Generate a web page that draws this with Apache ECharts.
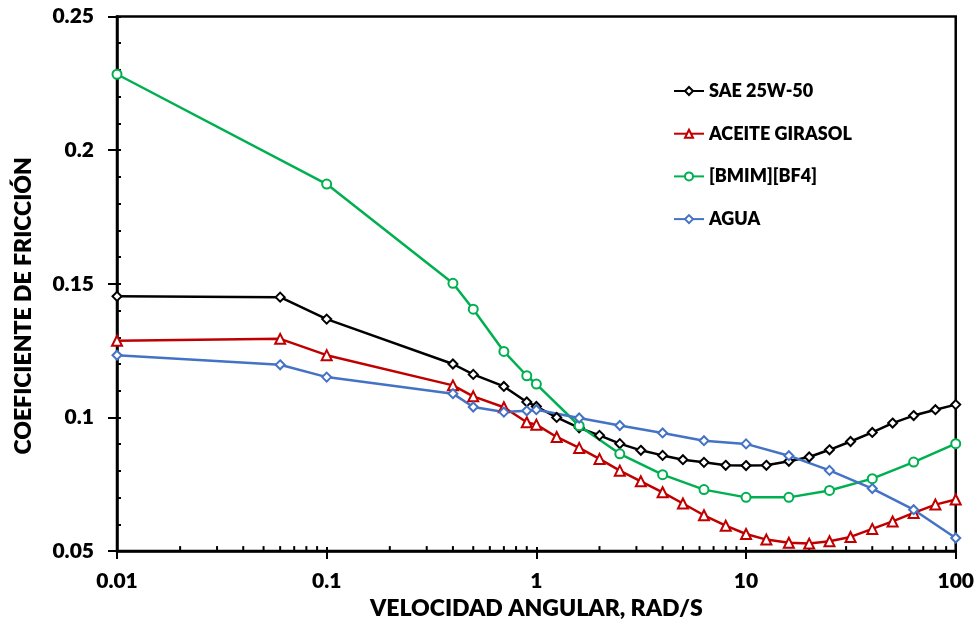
<!DOCTYPE html>
<html>
<head>
<meta charset="utf-8">
<script src="https://cdn.jsdelivr.net/npm/echarts@6/dist/echarts.min.js"></script>
<style>
  html, body { margin: 0; padding: 0; background: #fff; }
  #chart { width: 977px; height: 625px; }
</style>
</head>
<body>
<div id="chart"></div>
<script>
// Angular velocity (rad/s) and friction coefficient for each lubricant
const seriesNames = ['SAE 25W-50', 'ACEITE GIRASOL', '[BMIM][BF4]', 'AGUA'];

const velSAE = [0.01, 0.06, 0.1, 0.4, 0.5, 0.7, 0.9, 1, 1.25, 1.6, 2, 2.5, 3.15, 4, 5, 6.3, 8, 10, 12.5, 16, 20, 25, 31.5, 40, 50, 63, 80, 100];
const fricSAE = [0.1453, 0.1450, 0.1368, 0.1200, 0.1161, 0.1116, 0.1058, 0.1041, 0.1000, 0.0961, 0.0933, 0.0902, 0.0877, 0.0858, 0.0842, 0.0832, 0.0821, 0.0820, 0.0821, 0.0836, 0.0852, 0.0879, 0.0910, 0.0944, 0.0979, 0.1007, 0.1029, 0.1048];

const velGirasol = [0.01, 0.06, 0.1, 0.4, 0.5, 0.7, 0.9, 1, 1.25, 1.6, 2, 2.5, 3.15, 4, 5, 6.3, 8, 10, 12.5, 16, 20, 25, 31.5, 40, 50, 63, 80, 100];
const fricGirasol = [0.1287, 0.1294, 0.1233, 0.1120, 0.1079, 0.1038, 0.0982, 0.0973, 0.0927, 0.0886, 0.0845, 0.0801, 0.0761, 0.0720, 0.0678, 0.0634, 0.0595, 0.0564, 0.0543, 0.0531, 0.0528, 0.0537, 0.0553, 0.0583, 0.0611, 0.0643, 0.0674, 0.0693];

const velBmim = [0.01, 0.1, 0.4, 0.5, 0.7, 0.9, 1, 1.6, 2.5, 4, 6.3, 10, 16, 25, 40, 63, 100];
const fricBmim = [0.2284, 0.1873, 0.1502, 0.1405, 0.1247, 0.1156, 0.1125, 0.0969, 0.0864, 0.0786, 0.0730, 0.0701, 0.0701, 0.0727, 0.0771, 0.0833, 0.0902];

const velAgua = [0.01, 0.06, 0.1, 0.4, 0.5, 0.7, 0.9, 1, 1.6, 2.5, 4, 6.3, 10, 16, 25, 40, 63, 100];
const fricAgua = [0.1233, 0.1197, 0.1151, 0.1089, 0.1039, 0.1020, 0.1025, 0.1029, 0.0998, 0.0970, 0.0942, 0.0913, 0.0901, 0.0857, 0.0802, 0.0734, 0.0655, 0.0549];

const xTickLabels = ['0.01', '0.1', '1', '10', '100'];
const yTickLabels = ['0.05', '0.1', '0.15', '0.2', '0.25'];

// Logarithmic minor tick positions along the velocity axis
const xMinorTicks = [
  0.02, 0.03, 0.04, 0.05, 0.06, 0.07, 0.08, 0.09,
  0.2, 0.3, 0.4, 0.5, 0.6, 0.7, 0.8, 0.9,
  2, 3, 4, 5, 6, 7, 8, 9,
  20, 30, 40, 50, 60, 70, 80, 90
];

const FONT = 'Lato';
const WEIGHT = 800;

function pairs(xs, ys) { return xs.map((x, i) => [x, ys[i]]); }

function xLabel(v) {
  const lg = Math.round(Math.log10(v)) + 2;
  return xTickLabels[lg] !== undefined ? xTickLabels[lg] : '';
}
function yLabel(v) {
  const idx = Math.round((v - 0.05) / 0.05);
  return yTickLabels[idx] !== undefined ? yTickLabels[idx] : '';
}

const chart = echarts.init(document.getElementById('chart'), null, { renderer: 'canvas' });

const xBase = {
  type: 'log', logBase: 10, min: 0.01, max: 100, gridIndex: 0,
  splitLine: { show: false }
};
const yBase = {
  type: 'value', min: 0.05, max: 0.25, interval: 0.05, gridIndex: 0,
  splitLine: { show: false }
};

function lineSeries(name, data, color, symbol, size) {
  return {
    name, type: 'line', data,
    xAxisIndex: 0, yAxisIndex: 0,
    symbol, symbolSize: size, showAllSymbol: true,
    lineStyle: { color, width: 2.5 },
    itemStyle: { color: '#ffffff', borderColor: color, borderWidth: 2 },
    emphasis: { disabled: true },
    z: 3,
    animation: false
  };
}

chart.setOption({
  animation: false,
  backgroundColor: '#ffffff',
  grid: {
    left: 117, right: 21, top: 16.5, bottom: 73.5,
    show: true, borderColor: '#000', borderWidth: 2.5, backgroundColor: 'transparent'
  },
  legend: {
    data: seriesNames,
    orient: 'vertical',
    left: 668, top: 77,
    itemWidth: 30, itemHeight: 10, itemGap: 24.7,
    textStyle: { fontFamily: FONT, fontWeight: WEIGHT, fontSize: 18, color: '#000' }
  },
  xAxis: [
    Object.assign({}, xBase, {
      name: 'VELOCIDAD ANGULAR, RAD/S',
      nameLocation: 'middle', nameGap: 44,
      nameTextStyle: { fontFamily: FONT, fontWeight: WEIGHT, fontSize: 23, color: '#000' },
      axisLine: { show: true, lineStyle: { color: '#000', width: 2.5 } },
      axisTick: { show: true, inside: true, length: 4, lineStyle: { color: '#000', width: 2 } },
      axisLabel: { formatter: xLabel, fontFamily: FONT, fontWeight: WEIGHT, fontSize: 21, color: '#000', margin: 20 }
    }),
    Object.assign({}, xBase, {
      position: 'bottom',
      axisLine: { show: false },
      axisTick: { show: true, inside: false, length: 8, lineStyle: { color: '#000', width: 2 } },
      axisLabel: { show: false }
    })
  ],
  yAxis: [
    Object.assign({}, yBase, {
      name: 'COEFICIENTE DE FRICCIÓN',
      nameLocation: 'middle', nameGap: 82,
      nameTextStyle: { fontFamily: FONT, fontWeight: WEIGHT, fontSize: 23, color: '#000', padding: [0, 44, 0, 0] },
      axisLine: { show: true, lineStyle: { color: '#000', width: 2.5 } },
      axisTick: { show: true, inside: true, length: 4, lineStyle: { color: '#000', width: 2 } },
      minorTick: { show: true, splitNumber: 5, length: 4, lineStyle: { color: '#000', width: 2 } },
      axisLabel: { formatter: yLabel, fontFamily: FONT, fontWeight: WEIGHT, fontSize: 21, color: '#000', margin: 23 }
    }),
    Object.assign({}, yBase, {
      position: 'left',
      axisLine: { show: false },
      axisTick: { show: true, inside: false, length: 9, lineStyle: { color: '#000', width: 2 } },
      axisLabel: { show: false }
    })
  ],
  series: [
    {
      // short inward ticks at 2..9 of each decade on the x axis
      type: 'custom',
      xAxisIndex: 0, yAxisIndex: 0,
      silent: true,
      z: 1,
      data: xMinorTicks.map(v => [v, 0.05]),
      renderItem: function (params, api) {
        const p = api.coord([api.value(0), api.value(1)]);
        return {
          type: 'line',
          shape: { x1: p[0], y1: p[1], x2: p[0], y2: p[1] - 5 },
          style: { stroke: '#000', lineWidth: 2 }
        };
      }
    },
    lineSeries(seriesNames[0], pairs(velSAE, fricSAE), '#000000', 'diamond', 9),
    lineSeries(seriesNames[1], pairs(velGirasol, fricGirasol), '#C00000', 'triangle', 10),
    lineSeries(seriesNames[2], pairs(velBmim, fricBmim), '#00B050', 'circle', 9),
    lineSeries(seriesNames[3], pairs(velAgua, fricAgua), '#4472C4', 'diamond', 9)
  ]
});
</script>
</body>
</html>
